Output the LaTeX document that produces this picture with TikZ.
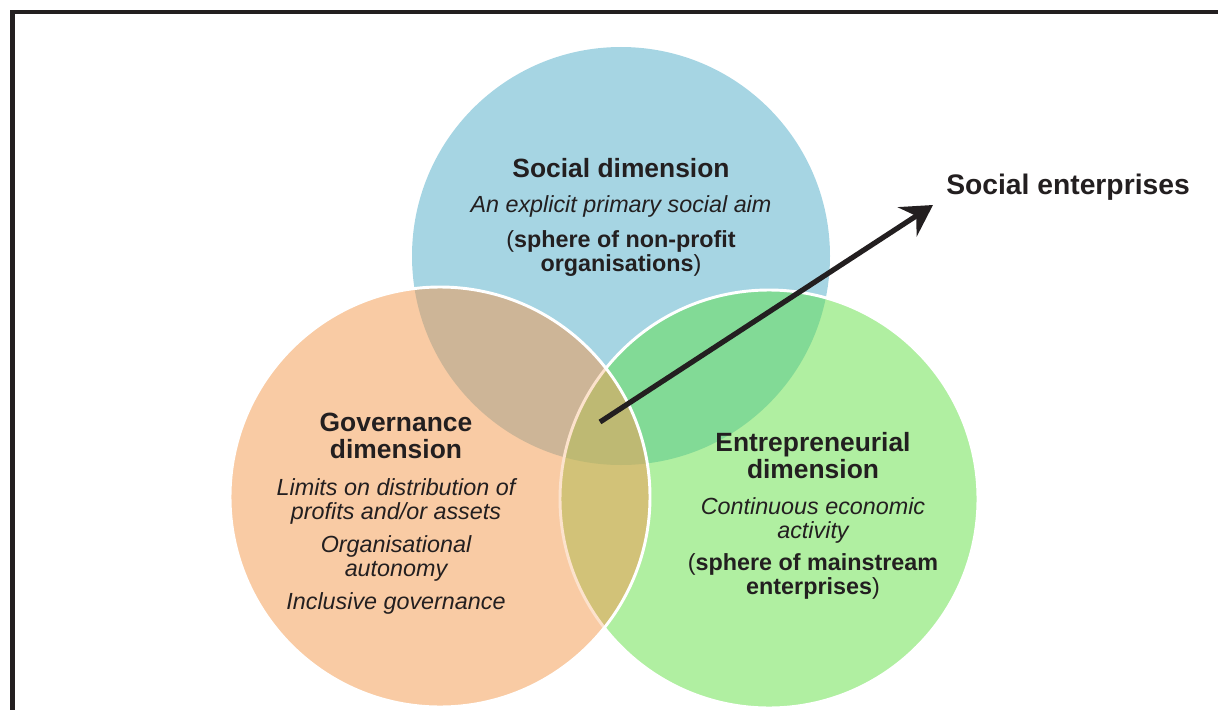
\documentclass[tikz,border=0pt]{standalone}
\usepackage{fontspec}
\setmainfont{Liberation Sans}
\usetikzlibrary{arrows.meta}

\definecolor{ink}{HTML}{231F20}
\definecolor{socialblue}{HTML}{A6D5E3}
\definecolor{govorange}{HTML}{F9CBA4}
\definecolor{entgreen}{HTML}{B0EFA1}
\definecolor{blueorange}{HTML}{CDB597}
\definecolor{bluegreen}{HTML}{82DA96}
\definecolor{orangegreen}{HTML}{D2C278}
\definecolor{allthree}{HTML}{BEB973}
\definecolor{paleedge}{HTML}{FCE2CC}

\tikzset{
  title/.style={font=\fontsize{19.8}{20}\selectfont\bfseries, text=ink, anchor=base, inner sep=0pt},
  aim/.style={font=\fontsize{17.5}{18}\selectfont\itshape, text=ink, anchor=base, inner sep=0pt},
  sphere/.style={font=\fontsize{17.5}{18}\selectfont\bfseries, text=ink, anchor=base, inner sep=0pt},
  headline/.style={font=\fontsize{21.2}{22}\selectfont\bfseries, text=ink, anchor=base west, inner sep=0pt},
  rim/.style={line width=2.2pt},
  frame/.style={draw=ink, line width=3.6pt},
  pointer/.style={draw=ink, line width=3.9pt, line join=miter, -{Stealth[length=23pt, width=26pt, inset=8pt]}}
}

\newcommand{\rsoc}{156.75pt}
\newcommand{\rgov}{157.5pt}
\newcommand{\rent}{156.75pt}

\begin{document}
\begin{tikzpicture}[x=0.75pt, y=-0.75pt]
  \useasboundingbox (0,0) rectangle (1218,710);

  % page frame (top and left edges)
  \begin{scope}
    \clip (0,0) rectangle (1218,710);
    \draw[frame] (12.5,730) -- (12.5,12) -- (1240,12);
  \end{scope}

  % circle centres
  \coordinate (soc) at (621,256);
  \coordinate (gov) at (440,497);
  \coordinate (ent) at (769,499);

  % plain discs
  \fill[socialblue] (soc) circle[radius=\rsoc];
  \fill[govorange] (gov) circle[radius=\rgov];
  \fill[entgreen] (ent) circle[radius=\rent];

  % pairwise overlaps with the social disc
  \begin{scope}
    \clip (soc) circle[radius=\rsoc];
    \fill[blueorange] (gov) circle[radius=\rgov];
    \fill[bluegreen] (ent) circle[radius=\rent];
  \end{scope}

  % governance / entrepreneurial overlap and the common core
  \begin{scope}
    \clip (gov) circle[radius=\rgov];
    \fill[orangegreen] (ent) circle[radius=\rent];
    \clip (soc) circle[radius=\rsoc];
    \fill[allthree] (ent) circle[radius=\rent];
  \end{scope}

  % rim of the entrepreneurial disc: pale inside the governance disc, white elsewhere
  \begin{scope}
    \clip (gov) circle[radius=\rgov];
    \draw[rim, paleedge] (ent) circle[radius=\rent];
  \end{scope}
  \begin{scope}[even odd rule]
    \clip (-10,-10) rectangle (1230,720) (gov) circle[radius=\rgov];
    \draw[rim, white] (ent) circle[radius=\rent];
  \end{scope}

  % rim of the governance disc
  \draw[rim, white] (gov) circle[radius=\rgov];

  % social dimension
  \node[title]  (s1) at (621,177) {Social dimension};
  \node[aim]    (s2) at (621,212) {An explicit primary social aim};
  \node[sphere] (s3) at (621,247.5) {\mdseries(\bfseries sphere of non-profit};
  \node[sphere] (s4) at (621,271) {organisations\mdseries)};

  % governance dimension
  \node[title] (g1) at (396,431) {Governance};
  \node[title] (g2) at (396,458) {dimension};
  \node[aim]   (g3) at (396,495) {Limits on distribution of};
  \node[aim]   (g4) at (396,519) {profits and/or assets};
  \node[aim]   (g5) at (396,552) {Organisational};
  \node[aim]   (g6) at (396,576) {autonomy};
  \node[aim]   (g7) at (396,609.5) {Inclusive governance};

  % entrepreneurial dimension
  \node[title]  (e1) at (813,451) {Entrepreneurial};
  \node[title]  (e2) at (813,478) {dimension};
  \node[aim]    (e3) at (813,514) {Continuous economic};
  \node[aim]    (e4) at (813,538) {activity};
  \node[sphere] (e5) at (813,570.5) {\mdseries(\bfseries sphere of mainstream};
  \node[sphere] (e6) at (813,594.5) {enterprises\mdseries)};

  % social enterprises and the pointer to them
  \node[headline] (se) at (946,194) {Social enterprises};
  \coordinate (core) at (600,422);
  \coordinate (tip) at (933,205);
  \draw[pointer] (core) -- (tip);
\end{tikzpicture}
\end{document}
